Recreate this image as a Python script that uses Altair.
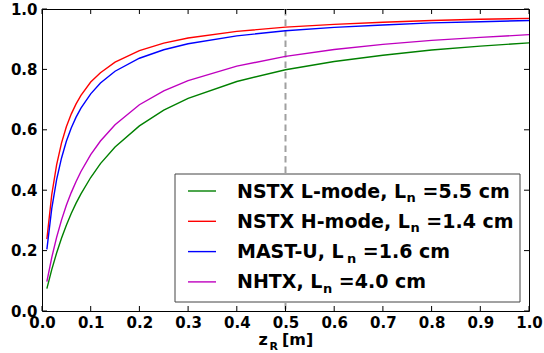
import altair as alt
import pandas as pd

# ---- data ----
z_m = [0.01, 0.02, 0.03, 0.04, 0.05, 0.06, 0.07, 0.08, 0.10, 0.12, 0.15,
       0.20, 0.25, 0.30, 0.40, 0.50, 0.60, 0.70, 0.80, 0.90, 1.00]
nstx_l = [0.074, 0.137, 0.192, 0.241, 0.284, 0.323, 0.357, 0.388, 0.442, 0.488, 0.543,
          0.613, 0.665, 0.704, 0.760, 0.799, 0.826, 0.847, 0.864, 0.877, 0.888]
nstx_h = [0.238, 0.385, 0.484, 0.556, 0.610, 0.652, 0.686, 0.714, 0.758, 0.789, 0.824,
          0.862, 0.887, 0.904, 0.926, 0.940, 0.949, 0.956, 0.962, 0.966, 0.969]
mast_u = [0.204, 0.339, 0.435, 0.506, 0.562, 0.606, 0.642, 0.672, 0.719, 0.755, 0.794,
          0.837, 0.865, 0.885, 0.911, 0.928, 0.939, 0.947, 0.954, 0.958, 0.962]
nhtx = [0.097, 0.177, 0.244, 0.301, 0.350, 0.392, 0.429, 0.462, 0.518, 0.563, 0.617,
        0.683, 0.729, 0.763, 0.811, 0.843, 0.866, 0.883, 0.896, 0.906, 0.915]

series_names = ["NSTX L-mode", "NSTX H-mode", "MAST-U", "NHTX"]
legend_main = ["NSTX L-mode, L", "NSTX H-mode, L", "MAST-U, L", "NHTX, L"]
legend_sub = ["n", "n", "n", "n"]
legend_rest = ["=5.5 cm", "=1.4 cm", "=1.6 cm", "=4.0 cm"]
colors = ["#008000", "#ff0000", "#0000ff", "#bf00bf"]

x_ticks = [0.0, 0.1, 0.2, 0.3, 0.4, 0.5, 0.6, 0.7, 0.8, 0.9, 1.0]
y_ticks = [0.0, 0.2, 0.4, 0.6, 0.8, 1.0]
marker_z = [0.5]

# ---- layout ----
W, H = 487, 302
FONT = "DejaVu Sans"
LEG_FS, SUB_FS = 19, 13
ADV = {"N": .837, "S": .720, "T": .682, "X": .774, " ": .348, "L": .637, "-": .415,
       "m": 1.042, "o": .687, "d": .716, "e": .678, ",": .380, "H": .838, "M": .995,
       "A": .774, "U": .812, "n": .712}


def text_w(s, size):
    return sum(ADV.get(c, 0.6) for c in s) * size


rows = []
for i, name in enumerate(series_names):
    ry = 182 + 30.3 * i
    tx = 195
    sx = tx + text_w(legend_main[i], LEG_FS) + 0.5
    rx = sx + text_w(legend_sub[i], SUB_FS) + ADV[" "] * LEG_FS
    rows.append(dict(series=name, main=legend_main[i], sub=legend_sub[i], rest=legend_rest[i],
                     ly=ry, lx1=146, lx2=174, tx=tx, ty=ry + 6.5, sx=sx, sy=ry + 11, rx=rx))
leg = pd.DataFrame(rows)

curves = pd.DataFrame({
    "z": z_m * 4,
    "f": nstx_l + nstx_h + mast_u + nhtx,
    "series": sum([[n] * len(z_m) for n in series_names], []),
})

xs = alt.Scale(domain=[0, 1], nice=False)
ys = alt.Scale(domain=[0, 1], nice=False)
cs = alt.Scale(domain=series_names, range=colors)

lines = alt.Chart(curves).mark_line(strokeWidth=1.4).encode(
    x=alt.X("z:Q", scale=xs, axis=alt.Axis(values=x_ticks, format=".1f", title=None,
                                          ticks=False, domain=False, grid=False,
                                          labelFlush=False, labelPadding=4)),
    y=alt.Y("f:Q", scale=ys, axis=alt.Axis(values=y_ticks, format=".1f", title=None,
                                          ticks=False, domain=False, grid=False,
                                          labelFlush=False, labelPadding=5)),
    color=alt.Color("series:N", scale=cs, legend=None),
    order=alt.Order("z:Q"),
)

vline = alt.Chart(pd.DataFrame({"z": marker_z})).mark_rule(
    color="#a0a0a0", strokeWidth=2, strokeDash=[6.5, 4]
).encode(x=alt.X("z:Q", scale=xs), y=alt.value(0), y2=alt.value(H))

xt = pd.DataFrame({"z": x_ticks})
yt = pd.DataFrame({"f": y_ticks})
tick_b = alt.Chart(xt).mark_rule(color="black", strokeWidth=1).encode(
    x=alt.X("z:Q", scale=xs), y=alt.value(H), y2=alt.value(H - 5))
tick_t = alt.Chart(xt).mark_rule(color="black", strokeWidth=1).encode(
    x=alt.X("z:Q", scale=xs), y=alt.value(0), y2=alt.value(5))
tick_l = alt.Chart(yt).mark_rule(color="black", strokeWidth=1).encode(
    y=alt.Y("f:Q", scale=ys), x=alt.value(0), x2=alt.value(5))
tick_r = alt.Chart(yt).mark_rule(color="black", strokeWidth=1).encode(
    y=alt.Y("f:Q", scale=ys), x=alt.value(W), x2=alt.value(W - 5))

one = pd.DataFrame({"k": [0]})
leg_box = alt.Chart(one).mark_rect(fill="white", stroke="#444444", strokeWidth=1).encode(
    x=alt.value(133), x2=alt.value(478), y=alt.value(165), y2=alt.value(293))

leg_lines = alt.Chart(leg).mark_rule(strokeWidth=1.4).encode(
    x=alt.X("lx1:Q", scale=None), x2="lx2:Q", y=alt.Y("ly:Q", scale=None),
    color=alt.Color("series:N", scale=cs, legend=None))
leg_main = alt.Chart(leg).mark_text(align="left", baseline="alphabetic", font=FONT,
                                    fontWeight="bold", fontSize=LEG_FS, color="black").encode(
    x=alt.X("tx:Q", scale=None), y=alt.Y("ty:Q", scale=None), text="main:N")
leg_sub = alt.Chart(leg).mark_text(align="left", baseline="alphabetic", font=FONT,
                                   fontWeight="bold", fontSize=SUB_FS, color="black").encode(
    x=alt.X("sx:Q", scale=None), y=alt.Y("sy:Q", scale=None), text="sub:N")
leg_rest = alt.Chart(leg).mark_text(align="left", baseline="alphabetic", font=FONT,
                                    fontWeight="bold", fontSize=LEG_FS, color="black").encode(
    x=alt.X("rx:Q", scale=None), y=alt.Y("ty:Q", scale=None), text="rest:N")

t_z = alt.Chart(one).mark_text(align="left", baseline="alphabetic", font=FONT,
                               fontWeight="bold", fontSize=16, color="black", text="z").encode(
    x=alt.value(216.5), y=alt.value(336))
t_r = alt.Chart(one).mark_text(align="left", baseline="alphabetic", font=FONT,
                               fontWeight="bold", fontSize=11, color="black", text="R").encode(
    x=alt.value(227.5), y=alt.value(340.5))
t_m = alt.Chart(one).mark_text(align="left", baseline="alphabetic", font=FONT,
                               fontWeight="bold", fontSize=16, color="black", text="[m]").encode(
    x=alt.value(240), y=alt.value(336))

chart = alt.layer(
    vline, lines, tick_b, tick_t, tick_l, tick_r,
    leg_box, leg_lines, leg_main, leg_sub, leg_rest, t_z, t_r, t_m,
).properties(
    width=W, height=H,
    autosize=alt.AutoSizeParams(type="none"),
    padding={"left": 42, "top": 9, "right": 15, "bottom": 42},
    background="white",
).configure_view(
    stroke="black", strokeWidth=1
).configure_axis(
    labelFont=FONT, labelFontWeight="bold", labelFontSize=15, labelColor="black"
)

chart.save("out.html", embed_options={"renderer": "svg", "actions": False})
